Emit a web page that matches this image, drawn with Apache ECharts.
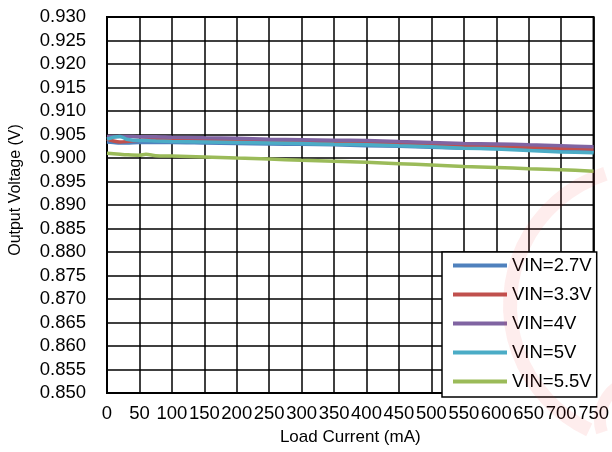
<!DOCTYPE html>
<html>
<head>
<meta charset="utf-8">
<script src="https://cdn.jsdelivr.net/npm/echarts@6/dist/echarts.min.js"></script>
<style>
  html, body { margin: 0; padding: 0; background: #fff; }
  #chart { width: 612px; height: 452px; }
</style>
</head>
<body>
<div id="chart"></div>
<script>
// Load current sample points (mA)
const loadCurrent = [0, 10, 20, 30, 50, 60, 75, 100, 150, 200, 250, 300, 350, 400, 450, 500, 550, 600, 650, 700, 750];

// Output voltage (V) for each input voltage
const vin27 = [0.9034, 0.9033, 0.9032, 0.9032, 0.9033, 0.9033, 0.9033, 0.9033, 0.9032, 0.9031, 0.9030, 0.9029, 0.9028, 0.9026, 0.9025, 0.9023, 0.9021, 0.9020, 0.9018, 0.9016, 0.9014];
const vin33 = [0.9040, 0.9036, 0.9034, 0.9035, 0.9038, 0.9039, 0.9040, 0.9040, 0.9039, 0.9038, 0.9036, 0.9035, 0.9034, 0.9033, 0.9031, 0.9029, 0.9027, 0.9025, 0.9023, 0.9021, 0.9019];
const vin40 = [0.9046, 0.9046, 0.9046, 0.9046, 0.9045, 0.9045, 0.9045, 0.9044, 0.9043, 0.9042, 0.9040, 0.9039, 0.9038, 0.9037, 0.9035, 0.9033, 0.9031, 0.9030, 0.9028, 0.9026, 0.9024];
const vin50 = [0.9040, 0.9044, 0.9046, 0.9040, 0.9037, 0.9037, 0.9036, 0.9035, 0.9034, 0.9033, 0.9032, 0.9031, 0.9029, 0.9028, 0.9026, 0.9024, 0.9021, 0.9019, 0.9016, 0.9013, 0.9011];
const vin55 = [0.9010, 0.9009, 0.9008, 0.9007, 0.9006, 0.9008, 0.9005, 0.9004, 0.9002, 0.9000, 0.8998, 0.8995, 0.8993, 0.8991, 0.8988, 0.8985, 0.8982, 0.8980, 0.8977, 0.8975, 0.8972];

const seriesNames = ['VIN=2.7V', 'VIN=3.3V', 'VIN=4V', 'VIN=5V', 'VIN=5.5V'];
const seriesValues = [vin27, vin33, vin40, vin50, vin55];
const seriesColors = ['#4F81BD', '#C0504D', '#8064A2', '#4BACC6', '#9BBB59'];

const FONT = "'Liberation Sans', Arial, sans-serif";

const chart = echarts.init(document.getElementById('chart'), null, { renderer: 'canvas' });

chart.setOption({
  animation: false,
  backgroundColor: '#fff',
  textStyle: { fontFamily: FONT },
  grid: {
    left: 101, right: 15, top: 17, bottom: 59,
    show: true, borderColor: '#000', borderWidth: 2, backgroundColor: 'transparent'
  },
  xAxis: {
    type: 'value',
    min: 0, max: 750, interval: 50,
    name: 'Load Current (mA)',
    nameLocation: 'middle',
    nameGap: 36,
    nameTextStyle: { color: '#000', fontSize: 17, fontFamily: FONT },
    axisLine: { show: true, lineStyle: { color: '#000', width: 2 } },
    axisTick: { show: false },
    axisLabel: { color: '#000', fontSize: 18.5, fontFamily: FONT, margin: 11 },
    splitLine: { show: true, lineStyle: { color: '#000', width: 1.5 } }
  },
  yAxis: {
    type: 'value',
    min: 0.85, max: 0.93, interval: 0.005,
    name: 'Output Voltage (V)',
    nameLocation: 'middle',
    nameGap: 83,
    nameRotate: 90,
    nameTextStyle: { color: '#000', fontSize: 16, fontFamily: FONT, padding: [0, 0, 0, 30] },
    axisLine: { show: true, lineStyle: { color: '#000', width: 2 } },
    axisTick: { show: false },
    axisLabel: {
      color: '#000', fontSize: 18.5, fontFamily: FONT, margin: 21,
      formatter: v => v.toFixed(3)
    },
    splitLine: { show: true, lineStyle: { color: '#000', width: 1.5 } }
  },
  legend: {
    data: seriesNames,
    orient: 'vertical',
    left: 442,
    top: 252,
    padding: [4, 5, 6, 11],
    itemGap: 10,
    itemWidth: 54,
    itemHeight: 4,
    icon: 'rect',
    backgroundColor: '#fff',
    borderColor: '#000',
    borderWidth: 1.5,
    borderRadius: 0,
    textStyle: { color: '#000', fontSize: 18.5, fontFamily: FONT, lineHeight: 18 }
  },
  // faint logo mark in the lower-right corner
  graphic: [
    {
      type: 'arc',
      z: 100,
      silent: true,
      shape: { cx: 648, cy: 305, r: 138, startAngle: Math.PI * 0.64, endAngle: Math.PI * 1.4, clockwise: true },
      style: { stroke: 'rgba(240, 60, 60, 0.09)', lineWidth: 14, fill: null }
    },
    {
      type: 'arc',
      z: 100,
      silent: true,
      shape: { cx: 640, cy: 420, r: 40, startAngle: Math.PI * 0.9, endAngle: Math.PI * 1.5, clockwise: true },
      style: { stroke: 'rgba(240, 60, 60, 0.09)', lineWidth: 12, fill: null }
    }
  ],
  series: seriesNames.map((name, i) => ({
    name,
    type: 'line',
    data: loadCurrent.map((x, j) => [x, seriesValues[i][j]]),
    showSymbol: false,
    smooth: 0.3,
    lineStyle: { color: seriesColors[i], width: 3.5 },
    itemStyle: { color: seriesColors[i] },
    z: 2 + i
  }))
});
</script>
</body>
</html>
